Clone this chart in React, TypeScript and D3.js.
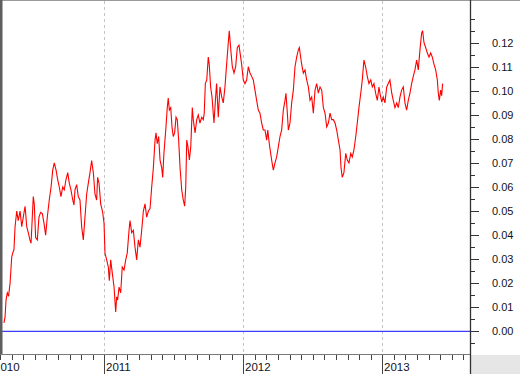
import React from "react";
import * as d3 from "d3";

// Time in decimal years, values of the series
const TIMES: number[] = [
  2010.278, 2010.286, 2010.293, 2010.302, 2010.311, 2010.322, 2010.334, 2010.341, 2010.350, 2010.358,
  2010.370, 2010.381, 2010.394, 2010.406, 2010.417, 2010.430, 2010.442, 2010.453, 2010.465, 2010.473,
  2010.482, 2010.489, 2010.496, 2010.506, 2010.518, 2010.530, 2010.542, 2010.554, 2010.566, 2010.578,
  2010.590, 2010.604, 2010.617, 2010.629, 2010.640, 2010.653, 2010.665, 2010.676, 2010.688, 2010.701,
  2010.712, 2010.724, 2010.737, 2010.748, 2010.760, 2010.773, 2010.782, 2010.789, 2010.801, 2010.813,
  2010.825, 2010.837, 2010.849, 2010.861, 2010.873, 2010.885, 2010.897, 2010.909, 2010.921, 2010.933,
  2010.945, 2010.952, 2010.962, 2010.974, 2010.988, 2010.998, 2011.005, 2011.017, 2011.029, 2011.036,
  2011.046, 2011.058, 2011.070, 2011.082, 2011.089, 2011.096, 2011.106, 2011.118, 2011.129, 2011.142,
  2011.154, 2011.165, 2011.178, 2011.185, 2011.197, 2011.209, 2011.221, 2011.233, 2011.245, 2011.257,
  2011.269, 2011.281, 2011.293, 2011.305, 2011.317, 2011.329, 2011.341, 2011.353, 2011.365, 2011.372,
  2011.381, 2011.391, 2011.401, 2011.413, 2011.420, 2011.429, 2011.442, 2011.453, 2011.460, 2011.468,
  2011.478, 2011.487, 2011.496, 2011.506, 2011.516, 2011.525, 2011.535, 2011.545, 2011.557, 2011.568,
  2011.578, 2011.586, 2011.593, 2011.602, 2011.612, 2011.622, 2011.633, 2011.640, 2011.653, 2011.665,
  2011.676, 2011.688, 2011.701, 2011.712, 2011.719, 2011.727, 2011.737, 2011.748, 2011.755, 2011.765,
  2011.775, 2011.789, 2011.801, 2011.808, 2011.820, 2011.832, 2011.845, 2011.856, 2011.868, 2011.880,
  2011.892, 2011.899, 2011.912, 2011.921, 2011.933, 2011.945, 2011.957, 2011.969, 2011.981, 2011.988,
  2012.000, 2012.012, 2012.024, 2012.036, 2012.048, 2012.060, 2012.072, 2012.084, 2012.096, 2012.108,
  2012.120, 2012.132, 2012.144, 2012.156, 2012.168, 2012.176, 2012.187, 2012.204, 2012.216, 2012.228,
  2012.240, 2012.252, 2012.264, 2012.276, 2012.288, 2012.300, 2012.307, 2012.317, 2012.324, 2012.336,
  2012.348, 2012.360, 2012.372, 2012.384, 2012.396, 2012.403, 2012.420, 2012.432, 2012.444, 2012.456,
  2012.468, 2012.480, 2012.492, 2012.504, 2012.516, 2012.528, 2012.540, 2012.552, 2012.564, 2012.576,
  2012.588, 2012.600, 2012.612, 2012.624, 2012.636, 2012.648, 2012.660, 2012.672, 2012.684, 2012.696,
  2012.703, 2012.712, 2012.724, 2012.737, 2012.748, 2012.760, 2012.773, 2012.784, 2012.796, 2012.809,
  2012.820, 2012.832, 2012.845, 2012.856, 2012.868, 2012.880, 2012.892, 2012.904, 2012.917, 2012.928,
  2012.940, 2012.952, 2012.964, 2012.976, 2012.983, 2012.996, 2013.007, 2013.019, 2013.032, 2013.043,
  2013.055, 2013.068, 2013.079, 2013.091, 2013.104, 2013.115, 2013.127, 2013.139, 2013.151, 2013.163,
  2013.175, 2013.187, 2013.199, 2013.211, 2013.223, 2013.235, 2013.247, 2013.259, 2013.271, 2013.283,
  2013.290, 2013.300, 2013.312, 2013.324, 2013.336, 2013.348, 2013.360, 2013.372, 2013.384, 2013.396,
  2013.403, 2013.410, 2013.420, 2013.427, 2013.434,
];

const VALUES: number[] = [
  0.0035, 0.006, 0.013, 0.016, 0.0145, 0.020, 0.031, 0.0325, 0.034, 0.0435,
  0.050, 0.046, 0.050, 0.0435, 0.0475, 0.052, 0.0435, 0.041, 0.038, 0.0366,
  0.0475, 0.056, 0.053, 0.039, 0.038, 0.0475, 0.0495, 0.049, 0.045, 0.040,
  0.0475, 0.0546, 0.060, 0.067, 0.070, 0.067, 0.063, 0.060, 0.056, 0.060,
  0.0588, 0.063, 0.066, 0.0616, 0.0588, 0.0546, 0.0525, 0.0588, 0.061, 0.056,
  0.0546, 0.0435, 0.038, 0.0475, 0.057, 0.0616, 0.066, 0.071, 0.066, 0.057,
  0.0546, 0.064, 0.0616, 0.053, 0.0496, 0.045, 0.0325, 0.0297, 0.0267, 0.021,
  0.0297, 0.024, 0.0184, 0.008, 0.0143, 0.013, 0.0184, 0.016, 0.0267, 0.0255,
  0.0297, 0.0325, 0.042, 0.046, 0.041, 0.042, 0.035, 0.0297, 0.038, 0.035,
  0.042, 0.050, 0.053, 0.0475, 0.050, 0.051, 0.060, 0.068, 0.0795, 0.0825,
  0.078, 0.081, 0.0712, 0.068, 0.064, 0.074, 0.0837, 0.093, 0.097, 0.092,
  0.093, 0.085, 0.081, 0.0825, 0.089, 0.088, 0.0795, 0.068, 0.0588, 0.0546,
  0.052, 0.060, 0.0795, 0.0767, 0.0712, 0.0767, 0.093, 0.088, 0.0825, 0.088,
  0.090, 0.0866, 0.089, 0.088, 0.0907, 0.103, 0.1045, 0.114, 0.111, 0.1016,
  0.0974, 0.0866, 0.0974, 0.103, 0.089, 0.1016, 0.0974, 0.095, 0.1016, 0.111,
  0.120, 0.125, 0.1157, 0.110, 0.1074, 0.110, 0.118, 0.119, 0.114, 0.111,
  0.1045, 0.103, 0.1045, 0.110, 0.1074, 0.106, 0.1045, 0.1003, 0.096, 0.092,
  0.0907, 0.0866, 0.0837, 0.0837, 0.0795, 0.0837, 0.078, 0.0712, 0.067, 0.070,
  0.0725, 0.0767, 0.081, 0.0837, 0.092, 0.096, 0.099, 0.0907, 0.0837, 0.0866,
  0.095, 0.1003, 0.110, 0.114, 0.117, 0.118, 0.111, 0.1074, 0.1087, 0.1045,
  0.1016, 0.096, 0.0974, 0.0907, 0.1003, 0.103, 0.099, 0.1016, 0.1003, 0.093,
  0.0907, 0.085, 0.0866, 0.0907, 0.088, 0.088, 0.0866, 0.0837, 0.0795, 0.0754,
  0.068, 0.064, 0.066, 0.074, 0.0712, 0.070, 0.074, 0.0725, 0.0754, 0.081,
  0.0866, 0.093, 0.099, 0.1045, 0.1128, 0.110, 0.106, 0.103, 0.1045, 0.1016,
  0.103, 0.099, 0.096, 0.1016, 0.099, 0.0953, 0.0974, 0.095, 0.1016, 0.103,
  0.1045, 0.099, 0.096, 0.093, 0.095, 0.093, 0.0974, 0.1003, 0.1016, 0.095,
  0.092, 0.096, 0.099, 0.103, 0.106, 0.1087, 0.1128, 0.1087, 0.117, 0.124,
  0.125, 0.120, 0.118, 0.1157, 0.114, 0.1157, 0.114, 0.111, 0.1087, 0.1045,
  0.099, 0.096, 0.1003, 0.098, 0.103,
];

const YEAR_LABELS: string[] = ["2010", "2011", "2012", "2013"];
const Y_TICK_VALUES: number[] = [0, 0.01, 0.02, 0.03, 0.04, 0.05, 0.06, 0.07, 0.08, 0.09, 0.10, 0.11, 0.12];
const X_DOMAIN: [number, number] = [2010.2496, 2013.631];
const Y_DOMAIN: [number, number] = [0, 0.12];

const W = 520;
const H = 374;
const PLOT_R = 470;
const AXIS_Y = 354;

export default function App() {
  const x = d3.scaleLinear().domain(X_DOMAIN).range([0, PLOT_R]);
  const y = d3.scaleLinear().domain(Y_DOMAIN).range([331.3, 42.7]);

  const data = TIMES.map((t, i) => ({ t, v: VALUES[i] }));
  const line = d3
    .line<{ t: number; v: number }>()
    .x((d) => x(d.t))
    .y((d) => y(d.v));

  const years = YEAR_LABELS.map((s) => +s);
  const monthTicks: number[] = [];
  for (const yr of [...years, 2014]) {
    for (let m = 0; m < 12; m++) {
      const t = yr + m / 12;
      if (t > X_DOMAIN[0] && t < X_DOMAIN[1]) monthTicks.push(t);
    }
  }
  const yearTicks = years.filter((t) => t > X_DOMAIN[0] && t < X_DOMAIN[1]);

  // minor y ticks every 0.005
  const minorY: number[] = d3.range(-1, 27).map((k) => k * 0.005);

  const font = "Liberation Sans, Arial, sans-serif";

  return (
    <svg
      width={W}
      height={H}
      style={{ position: "absolute", left: 0, top: 0, display: "block" }}
    >
      <defs>
        <clipPath id="plotclip">
          <rect x={2} y={1} width={PLOT_R - 2} height={AXIS_Y - 1} />
        </clipPath>
      </defs>
      <rect x={0} y={0} width={W} height={H} fill="#ffffff" />

      {/* year gridlines */}
      {yearTicks.map((t) => (
        <line
          key={"g" + t}
          x1={Math.round(x(t)) + 0.5}
          x2={Math.round(x(t)) + 0.5}
          y1={1}
          y2={AXIS_Y}
          stroke="#c4c4c4"
          strokeWidth={1}
          strokeDasharray="3,3"
        />
      ))}

      {/* zero line */}
      <line x1={2} x2={PLOT_R} y1={y(0)} y2={y(0)} stroke="#3c3cff" strokeWidth={1.3} />

      {/* series */}
      <path
        d={line(data) || ""}
        fill="none"
        stroke="#ff0000"
        strokeWidth={1.1}
        clipPath="url(#plotclip)"
      />

      {/* borders */}
      <line x1={0} x2={W} y1={0.5} y2={0.5} stroke="#9a9a9a" strokeWidth={1} />
      <rect x={0} y={0} width={2.5} height={AXIS_Y + 1} fill="#5e5e5e" />
      <line x1={0} x2={PLOT_R} y1={AXIS_Y + 0.5} y2={AXIS_Y + 0.5} stroke="#7a7a7a" strokeWidth={1} />
      <rect x={PLOT_R + 1} y={AXIS_Y + 1} width={W - PLOT_R - 1} height={H - AXIS_Y - 1} fill="#e6e6e6" />
      <line x1={PLOT_R + 0.5} x2={PLOT_R + 0.5} y1={0} y2={H} stroke="#333333" strokeWidth={1.3} />

      {/* x ticks */}
      {monthTicks.map((t) => (
        <line
          key={"m" + t}
          x1={Math.round(x(t)) + 0.5}
          x2={Math.round(x(t)) + 0.5}
          y1={AXIS_Y + 1}
          y2={AXIS_Y + 6}
          stroke="#444444"
          strokeWidth={1}
        />
      ))}
      {yearTicks.map((t) => (
        <line
          key={"y" + t}
          x1={Math.round(x(t)) + 0.5}
          x2={Math.round(x(t)) + 0.5}
          y1={AXIS_Y + 1}
          y2={H}
          stroke="#444444"
          strokeWidth={1}
        />
      ))}
      {years.map((t, i) => {
        const px = t > X_DOMAIN[0] ? Math.round(x(t)) + 2 : x(X_DOMAIN[0]) - 6;
        return (
          <text
            key={"yl" + t}
            x={px}
            y={371}
            fontFamily={font}
            fontSize={11.5}
            fill="#111122"
          >
            {YEAR_LABELS[i]}
          </text>
        );
      })}

      {/* y ticks */}
      {minorY.map((v, i) => (
        <line
          key={"mt" + i}
          x1={PLOT_R + 1}
          x2={PLOT_R + 5}
          y1={Math.round(y(v)) + 0.5}
          y2={Math.round(y(v)) + 0.5}
          stroke="#333333"
          strokeWidth={1}
        />
      ))}
      {Y_TICK_VALUES.map((v) => (
        <g key={"yt" + v}>
          <line
            x1={PLOT_R + 1}
            x2={PLOT_R + 9}
            y1={Math.round(y(v)) + 0.5}
            y2={Math.round(y(v)) + 0.5}
            stroke="#333333"
            strokeWidth={1}
          />
          <text
            x={492}
            y={y(v)}
            dy="0.36em"
            fontFamily={font}
            fontSize={11}
            fill="#111122"
          >
            {d3.format(".2f")(v)}
          </text>
        </g>
      ))}
    </svg>
  );
}
